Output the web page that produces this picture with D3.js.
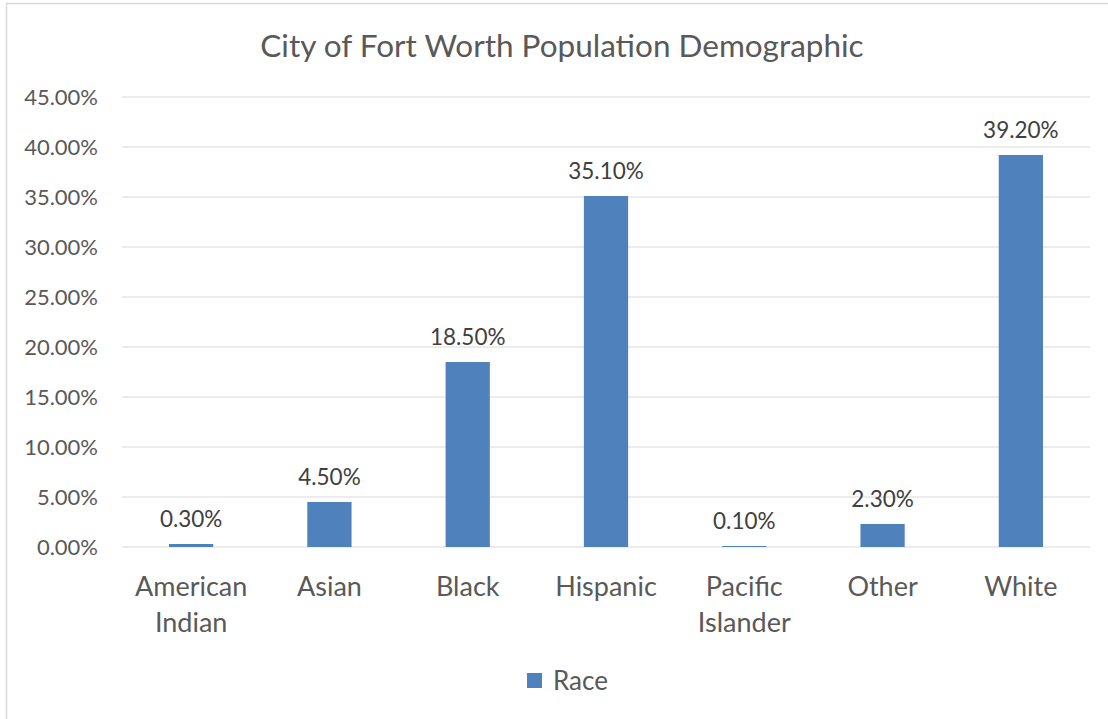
<!DOCTYPE html>
<html>
<head>
<meta charset="utf-8">
<script src="https://cdn.jsdelivr.net/npm/d3@7"></script>
<style>
  body { margin: 0; background: #fff; }
  svg { display: block; font-family: Lato, "Open Sans", sans-serif; }
</style>
</head>
<body>
<script>
// data
var categories = ["American Indian", "Asian", "Black", "Hispanic", "Pacific Islander", "Other", "White"];
var values = [0.3, 4.5, 18.5, 35.1, 0.1, 2.3, 39.2];
var yTicks = [0, 5, 10, 15, 20, 25, 30, 35, 40, 45];
var seriesName = "Race";
var chartTitle = "City of Fort Worth Population Demographic";

var full_width = 1108, full_height = 719;
var margin = {top: 97, right: 18, bottom: 172, left: 122};
var width = full_width - margin.left - margin.right,
    height = full_height - margin.top - margin.bottom;

var svg = d3.select("body").append("svg")
  .attr("width", full_width)
  .attr("height", full_height);

// chart frame (only top/left visible in the crop)
svg.append("rect")
  .attr("x", 6.5).attr("y", 3.5)
  .attr("width", full_width + 10).attr("height", full_height + 10)
  .attr("fill", "none").attr("stroke", "#d9d9d9").attr("stroke-width", 1.5);

svg.append("text")
  .attr("x", 562).attr("y", 57)
  .attr("text-anchor", "middle")
  .attr("font-size", "31.5px")
  .attr("fill", "#595959")
  .text(chartTitle);

var g = svg.append("g")
  .attr("transform", "translate(" + margin.left + "," + margin.top + ")");

var x = d3.scaleBand().domain(categories).range([0, width]).paddingInner(0.68).paddingOuter(0.34);
var y = d3.scaleLinear().domain([0, 45]).range([height, 0]);

// gridlines
g.selectAll(".grid")
  .data(yTicks)
  .enter().append("line")
  .attr("x1", 0).attr("x2", width)
  .attr("y1", function(d) { return y(d); })
  .attr("y2", function(d) { return y(d); })
  .attr("stroke", "#d9d9d9").attr("stroke-width", 1);

// y axis labels
var y_axis = d3.axisLeft(y).tickValues(yTicks).tickSize(0).tickPadding(24)
  .tickFormat(function(d) { return d.toFixed(2) + "%"; });
var yAxis = g.append("g").call(y_axis);
yAxis.select(".domain").remove();
yAxis.selectAll("text").attr("font-size", "22px").attr("fill", "#595959")
  .attr("font-family", "Lato, 'Open Sans', sans-serif");

// bars
g.selectAll(".bar")
  .data(values)
  .enter().append("rect")
  .attr("x", function(d, i) { return x(categories[i]); })
  .attr("width", x.bandwidth())
  .attr("y", function(d) { return y(d); })
  .attr("height", function(d) { return height - y(d); })
  .attr("fill", "#4f81bd");

// data labels
g.selectAll(".lbl")
  .data(values)
  .enter().append("text")
  .attr("x", function(d, i) { return x(categories[i]) + x.bandwidth() / 2; })
  .attr("y", function(d) { return y(d) - 17; })
  .attr("text-anchor", "middle")
  .attr("font-size", "22.5px")
  .attr("fill", "#404040")
  .text(function(d) { return d.toFixed(2) + "%"; });

// category labels
var catLabels = g.selectAll(".cat")
  .data(categories)
  .enter().append("text")
  .attr("text-anchor", "middle")
  .attr("font-size", "27px")
  .attr("fill", "#595959")
  .attr("transform", function(d) { return "translate(" + (x(d) + x.bandwidth() / 2) + "," + (height + 49) + ")"; });

catLabels.each(function(d) {
  var words = d.split(" ");
  var t = d3.select(this);
  words.forEach(function(w, k) {
    t.append("tspan").attr("x", 0).attr("dy", k === 0 ? 0 : 36).text(w);
  });
});

// legend
var legend = svg.append("g").attr("transform", "translate(527,673)");
legend.append("rect").attr("width", 15).attr("height", 15).attr("fill", "#4f81bd");
legend.append("text").attr("x", 26).attr("y", 17)
  .attr("font-size", "26px").attr("fill", "#595959").text(seriesName);
</script>
</body>
</html>
